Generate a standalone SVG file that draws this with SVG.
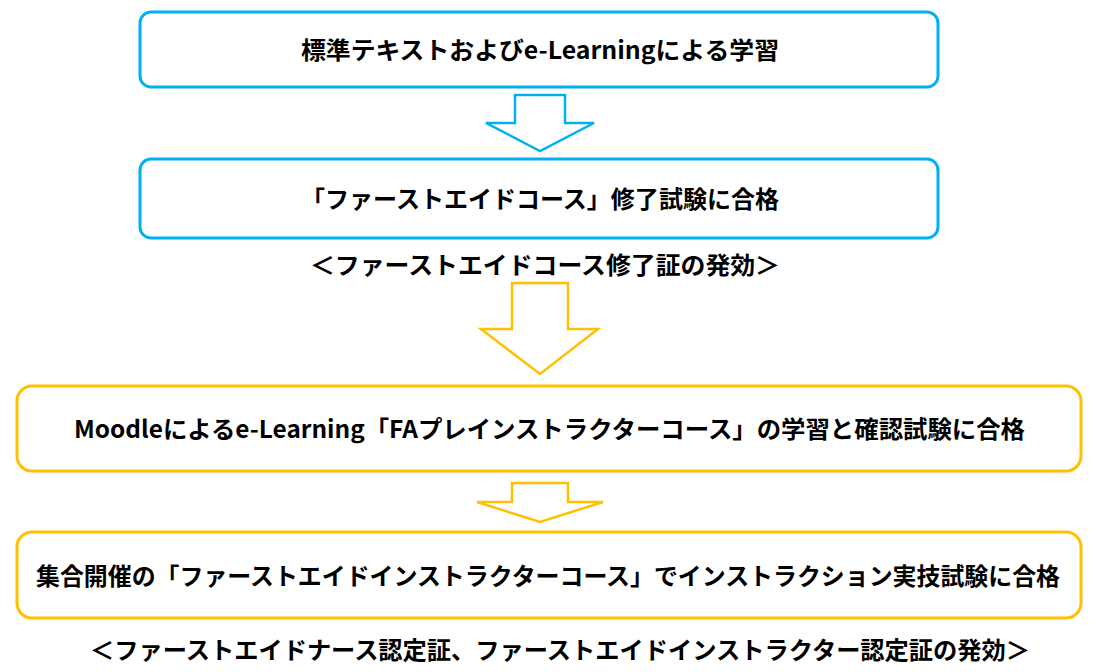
<svg xmlns="http://www.w3.org/2000/svg" width="1101" height="672" viewBox="0 0 1101 672">
<style>
.bg{fill:#FFFFFF}
.blue{fill:#FFFFFF;stroke:#00B0F0;stroke-width:3}
.yel{fill:#FFFFFF;stroke:#FFC000;stroke-width:3}
.arB{fill:#FFFFFF;stroke:#00B0F0;stroke-width:2.5;stroke-linejoin:miter}
.arY{fill:#FFFFFF;stroke:#FFC000;stroke-width:2.5;stroke-linejoin:miter}
.t{font-family:"Noto Sans CJK JP","Noto Sans",sans-serif;font-weight:bold;font-size:24px;fill:#000000}
</style>
<rect class="bg" x="0" y="0" width="1101" height="672"/>
<g id="connectors">
<polygon class="arB" points="515,95 565,95 565,123 594,123 540,151 486,123 515,123"/>
<polygon class="arY" points="512,283 568,283 568,329 598,329 540,374 481,329 512,329"/>
<polygon class="arY" points="512,483 568,483 568,502 603,502 540,522 477,502 512,502"/>
</g>
<g id="node1">
<rect class="blue" x="140" y="12" width="798" height="75" rx="11"/>
<text class="t" x="301" y="59" textLength="478" lengthAdjust="spacingAndGlyphs">標準テキストおよびe-Learningによる学習</text>
</g>
<g id="node2">
<rect class="blue" x="140" y="159" width="798" height="79" rx="11"/>
<text class="t" x="301" y="208" textLength="478" lengthAdjust="spacingAndGlyphs">「ファーストエイドコース」修了試験に合格</text>
</g>
<g id="label1">
<text class="t" x="310" y="274" textLength="470" lengthAdjust="spacingAndGlyphs">＜ファーストエイドコース修了証の発効＞</text>
</g>
<g id="node3">
<rect class="yel" x="17" y="386" width="1064" height="85" rx="15"/>
<text class="t" x="74" y="438" textLength="951" lengthAdjust="spacingAndGlyphs">Moodleによるe-Learning「FAプレインストラクターコース」の学習と確認試験に合格</text>
</g>
<g id="node4">
<rect class="yel" x="17" y="532" width="1064" height="86" rx="15"/>
<text class="t" x="36" y="585" textLength="1024" lengthAdjust="spacingAndGlyphs">集合開催の「ファーストエイドインストラクターコース」でインストラクション実技試験に合格</text>
</g>
<g id="label2">
<text class="t" x="90" y="659" textLength="940" lengthAdjust="spacingAndGlyphs">＜ファーストエイドナース認定証、ファーストエイドインストラクター認定証の発効＞</text>
</g>
</svg>
